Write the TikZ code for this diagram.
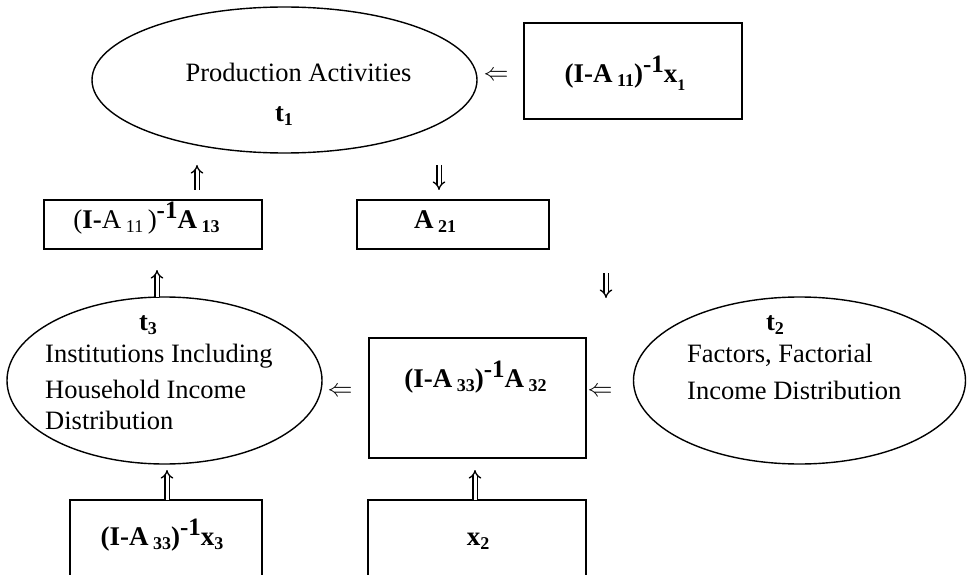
\documentclass[tikz,border=0pt]{standalone}
\usepackage{fontspec}
\setmainfont{Liberation Serif}
\usetikzlibrary{shapes.geometric,arrows.meta}
\newcommand\mysub[2][18]{\raisebox{-4pt}{\fontsize{#1}{#1}\selectfont #2}}
\newcommand\mysup[2][25]{\raisebox{10pt}{\fontsize{#1}{#1}\selectfont #2}}
\tikzset{
  ell/.style={draw, ellipse, line width=1.4pt, inner sep=0pt},
  boxnode/.style={draw, rectangle, line width=1.8pt, inner sep=0pt},
  txt/.style={font=\fontsize{26.5}{31}\selectfont, inner sep=0pt, anchor=base},
  ltxt/.style={txt, anchor=base west},
  frm/.style={font=\fontsize{27}{30}\selectfont\bfseries, inner sep=0pt, anchor=base},
  harrow/.style={font=\fontsize{32}{32}\selectfont, inner sep=0pt},
  dbl/.style={double, double distance=3pt, line width=1.3pt, -{Implies[scale=1.3]}}
}
\begin{document}
\begin{tikzpicture}[x=1pt,y=-1pt]
\useasboundingbox (0,0) rectangle (967,575);
% ellipses
\node[ell, minimum width=385pt, minimum height=146pt] (prod) at (284.5,80) {};
\node[ell, minimum width=315pt, minimum height=167pt] (inst) at (164.5,380.5) {};
\node[ell, minimum width=332pt, minimum height=167pt] (fact) at (799.5,380.5) {};
% boxes
\node[boxnode, minimum width=218pt, minimum height=96pt] (bx1) at (633,71) {};
\node[boxnode, minimum width=218pt, minimum height=49pt] (bA13) at (153,224.5) {};
\node[boxnode, minimum width=192pt, minimum height=49pt] (bA21) at (453,224.5) {};
\node[boxnode, minimum width=217pt, minimum height=120pt] (bA32) at (477.5,398) {};
\node[boxnode, minimum width=192pt, minimum height=100pt] (bx3) at (166,550) {};
\node[boxnode, minimum width=218pt, minimum height=100pt] (bx2) at (477,550) {};
% texts
\node[txt] (prodt) at (298.5,82) {Production Activities};
\node[txt] (t1) at (284,122) {\textbf{t\mysub{1}}};
\node[txt] (t3) at (148,330) {\textbf{t\mysub{3}}};
\node[ltxt] (inst1) at (45,362) {Institutions Including};
\node[ltxt] (inst2) at (45,398) {Household Income};
\node[ltxt] (inst3) at (45,429) {Distribution};
\node[txt] (t2) at (775,330) {\textbf{t\mysub{2}}};
\node[ltxt] (fact1) at (687,362) {Factors, Factorial};
\node[ltxt] (fact2) at (687,399) {Income Distribution};
% formulas
\node[frm] (fx1) at (625,83) {(I-A\,\mysub{11})\mysup{-1}x\mysub[16]{\raisebox{-4pt}{1}}};
\node[frm] (fA13) at (146.5,229) {\mdseries(\textbf{I-}A\,\mysub{11}\,)\textbf{\mysup{-1}A\,\mysub{13}}};
\node[frm] (fA21) at (435,229) {A\,\mysub{21}};
\node[frm] (fA32) at (475.5,387) {(I-A\,\mysub{33})\mysup{-1}A\,\mysub{32}};
\node[frm] (fx3) at (162,545) {(I-A\,\mysub{33})\mysup{-1}x\mysub{3}};
\node[frm] (fx2) at (478,545) {x\mysub{2}};
% horizontal arrow glyphs
\node[harrow] (a1) at (496,76) {$\Leftarrow$};
\node[harrow] (a6) at (340,392) {$\Leftarrow$};
\node[harrow] (a7) at (600,392) {$\Leftarrow$};
% vertical double arrows
\coordinate (a2s) at (197,190); \coordinate (a2e) at (197,165);
\coordinate (a3s) at (439,165); \coordinate (a3e) at (439,190);
\coordinate (a4s) at (157,297); \coordinate (a4e) at (157,270);
\coordinate (a5s) at (606,273); \coordinate (a5e) at (606,298);
\coordinate (a8s) at (167,500); \coordinate (a8e) at (167,470);
\coordinate (a9s) at (475,500); \coordinate (a9e) at (475,470);
\draw[dbl] (a2s) -- (a2e);
\draw[dbl] (a3s) -- (a3e);
\draw[dbl] (a4s) -- (a4e);
\draw[dbl] (a5s) -- (a5e);
\draw[dbl] (a8s) -- (a8e);
\draw[dbl] (a9s) -- (a9e);
\end{tikzpicture}
\end{document}
